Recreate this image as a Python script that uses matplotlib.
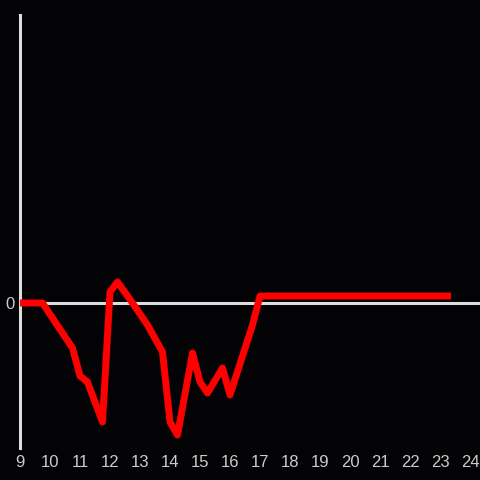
import matplotlib
matplotlib.use("Agg")
import matplotlib.pyplot as plt

hours = [9.0, 9.75, 10.75, 11.0, 11.25, 11.75, 12.0, 12.25, 12.75, 13.25, 13.75,
         14.0, 14.25, 14.75, 15.0, 15.25, 15.75, 16.0, 16.75, 17.0, 23.25]
values = [0, 0, -45, -73, -79, -119, 11, 21, 0, -22, -49,
          -119, -132, -50, -79, -90, -65, -92, -22, 7, 7]
xticks = list(range(9, 25))

plt.rcParams["font.family"] = ["Liberation Sans", "DejaVu Sans"]

bg = "#030305"
fig = plt.figure(figsize=(4.8, 4.8), dpi=100, facecolor=bg)
ax = fig.add_axes([20/480, 32/480, 460/480, 433/480])
ax.set_facecolor(bg)

ax.axhline(0, color="#dddddd", lw=2.2, zorder=1)
ax.plot(hours, values, color="#ff0000", lw=5, solid_joinstyle="round", zorder=3)

ax.set_xlim(9, 24.333)
ax.set_ylim(-145, 288)
ax.set_xticks(xticks)
ax.set_yticks([0])
ax.tick_params(length=0, colors="#cccccc", labelsize=12, pad=5)
ax.tick_params(axis="y", pad=4)
for s in ["top", "right", "bottom"]:
    ax.spines[s].set_visible(False)
ax.spines["left"].set_color("#dddddd")
ax.spines["left"].set_linewidth(2.2)

fig.savefig("out.png", facecolor=bg)
